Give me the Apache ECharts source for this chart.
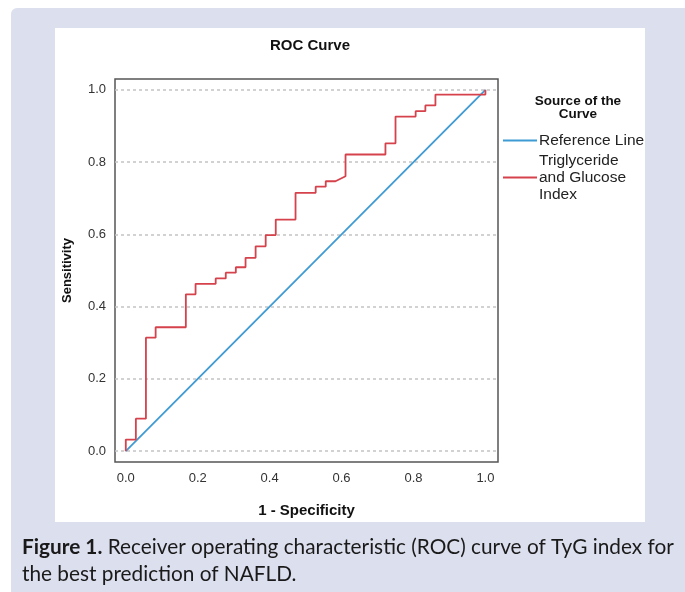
<!DOCTYPE html>
<html>
<head>
<meta charset="utf-8">
<script src="https://cdn.jsdelivr.net/npm/echarts@6/dist/echarts.min.js"></script>
<style>
html,body{margin:0;padding:0;background:#ffffff;}
#chart{width:685px;height:592px;}
</style>
</head>
<body>
<div id="chart"></div>
<script>
// ---- data ----
const fpr = [0,0,0.028,0.028,0.056,0.056,0.083,0.083,0.167,0.167,0.194,0.194,0.25,0.25,0.278,0.278,0.306,0.306,0.333,0.333,0.361,0.361,0.389,0.389,0.417,0.417,0.472,0.472,0.528,0.528,0.556,0.556,0.583,0.611,0.611,0.722,0.722,0.75,0.75,0.806,0.806,0.833,0.833,0.861,0.861,1,1];
const tpr = [0,0.032,0.032,0.09,0.09,0.314,0.314,0.343,0.343,0.434,0.434,0.463,0.463,0.478,0.478,0.494,0.494,0.509,0.509,0.535,0.535,0.567,0.567,0.598,0.598,0.641,0.641,0.715,0.715,0.732,0.732,0.747,0.747,0.761,0.821,0.821,0.852,0.852,0.926,0.926,0.941,0.941,0.957,0.957,0.987,0.987,1];
const refX = [0, 1];
const refY = [0, 1];
const tickValues = [0, 0.2, 0.4, 0.6, 0.8, 1.0];
const seriesNames = ['Reference Line', 'Triglyceride\nand Glucose\nIndex'];
const chartTitle = 'ROC Curve';
const legendTitle = 'Source of the\nCurve';
const xName = '1 - Specificity';
const yName = 'Sensitivity';
const captionBold = 'Figure 1.';
const captionRest = ' Receiver operating characteristic (ROC) curve of TyG index for\nthe best prediction of NAFLD.';

const zip = (a, b) => a.map((v, i) => [v, b[i]]);

const chart = echarts.init(document.getElementById('chart'), null, {renderer: 'canvas'});
const axisFont = 'Liberation Sans, Arial, sans-serif';
const option = {
  animation: false,
  backgroundColor: '#ffffff',
  graphic: [
    {type: 'rect', z: -20, shape: {x: 11, y: 8, width: 700, height: 620, r: 6}, style: {fill: '#dcdfee'}},
    {type: 'rect', z: -19, shape: {x: 55, y: 28, width: 590, height: 494}, style: {fill: '#ffffff'}},
    {type: 'text', z: 5, x: 22, y: 534, style: {
      text: '{b|' + captionBold + '}' + captionRest,
      fontFamily: 'Lato', fontSize: 20.8, lineHeight: 27, fill: '#1a1a1a',
      rich: {b: {fontFamily: 'Lato', fontSize: 20.8, fontWeight: 'bold', lineHeight: 27, fill: '#1a1a1a'}}
    }}
  ],
  title: [
    {text: chartTitle, left: 305, top: 33, textAlign: 'center',
     textStyle: {fontFamily: axisFont, fontSize: 15, fontWeight: 'bold', color: '#111'}},
    {text: legendTitle, left: 573, top: 90, textAlign: 'center',
     textStyle: {fontFamily: axisFont, fontSize: 13.5, fontWeight: 'bold', color: '#111', lineHeight: 13}}
  ],
  legend: {
    orient: 'vertical', left: 503, top: 132, itemGap: 3, padding: 0,
    itemWidth: 34, itemHeight: 2, icon: 'rect',
    data: seriesNames,
    textStyle: {fontFamily: axisFont, fontSize: 15.5, color: '#222', lineHeight: 17, padding: [0,0,0,-3]}
  },
  grid: {left: 115, top: 79, width: 383, height: 383, show: true, borderColor: '#555', borderWidth: 1.5, backgroundColor: 'transparent', containLabel: false},
  xAxis: {
    type: 'value', min: -0.03, max: 1.035,
    name: xName, nameLocation: 'middle', nameGap: 41,
    nameTextStyle: {fontFamily: axisFont, fontSize: 15, fontWeight: 'bold', color: '#111'},
    axisLine: {show: false}, axisTick: {show: false, customValues: tickValues},
    axisLabel: {customValues: tickValues, formatter: v => v.toFixed(1), fontFamily: axisFont, fontSize: 13, color: '#333', margin: 10},
    splitLine: {show: false}
  },
  yAxis: {
    type: 'value', min: -0.03, max: 1.03,
    name: yName, nameLocation: 'middle', nameGap: 41, nameRotate: 90,
    nameTextStyle: {fontFamily: axisFont, fontSize: 13, fontWeight: 'bold', color: '#111'},
    axisLine: {show: false}, axisTick: {show: false, customValues: tickValues},
    axisLabel: {customValues: tickValues, formatter: v => v.toFixed(1), fontFamily: axisFont, fontSize: 13, color: '#333', margin: 9},
    splitLine: {show: true, lineStyle: {color: '#c4c4c4', width: 1.5, type: [3, 3]}}
  },
  series: [
    {name: seriesNames[0], type: 'line', data: zip(refX, refY), showSymbol: false, symbol: 'none',
     lineStyle: {color: '#3f9bd3', width: 1.8}, itemStyle: {color: '#3f9bd3'}, z: 3},
    {name: seriesNames[1], type: 'line', data: zip(fpr, tpr), showSymbol: false, symbol: 'none',
     lineStyle: {color: '#d5424b', width: 1.8}, itemStyle: {color: '#d5424b'}, z: 4}
  ]
};
chart.setOption(option);
</script>
</body>
</html>
